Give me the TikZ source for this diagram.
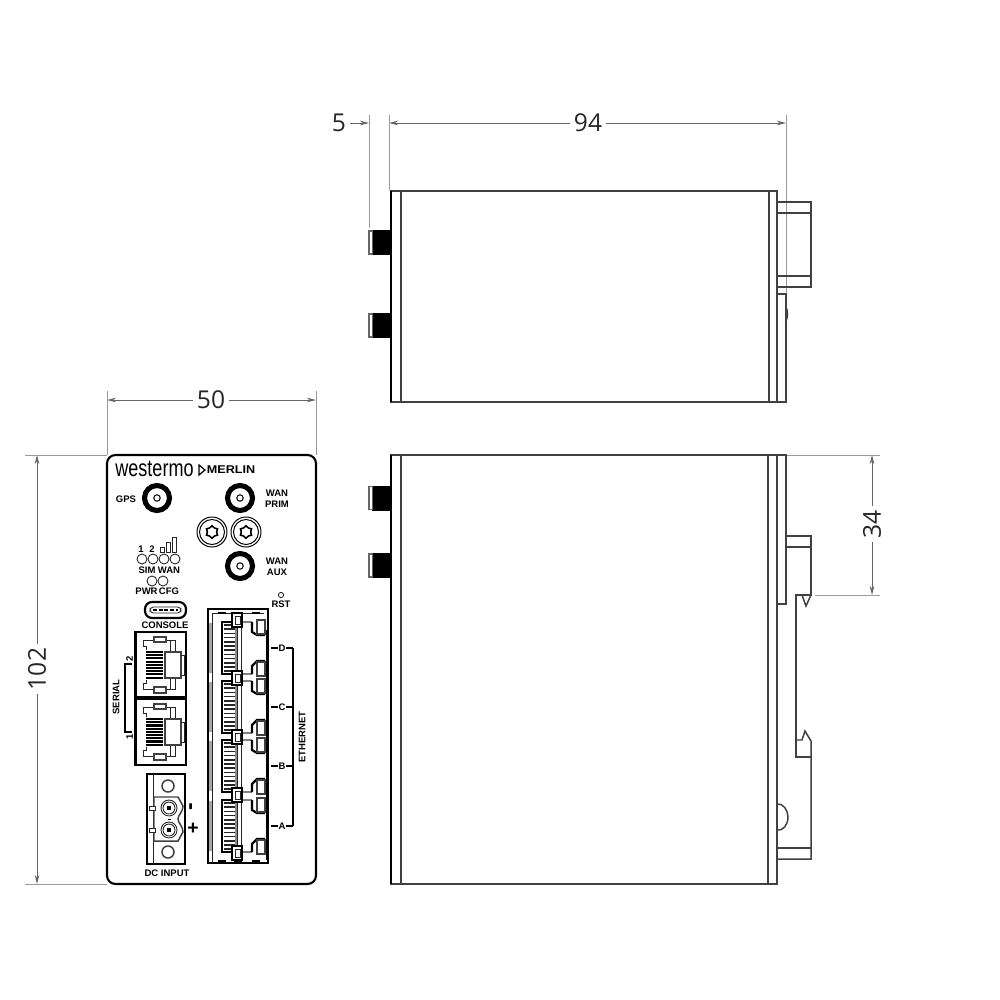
\documentclass[tikz,border=0pt]{standalone}
\usepackage{fontspec}
\setmainfont{Liberation Sans}
\newfontfamily\dimfamily{Open Sans}
\usetikzlibrary{arrows.meta,shapes.geometric}
\newcommand{\dimfont}{\dimfamily\fontsize{7}{8}\selectfont}
\newcommand{\tagfont}{\bfseries\fontsize{2.7}{3.1}\selectfont}
\tikzset{
  dimline/.style={draw=black!40,line width=.22pt},
  dimarrow/.style={draw=black!60,line width=.25pt,-{Stealth[length=2.6pt,width=1.3pt]}},
  dimlabel/.style={font=\dimfont,inner sep=.9pt,text=black!85},
  body/.style={draw=black!75,line width=.42pt},
  heavy/.style={draw=black,line width=.62pt},
  fine/.style={draw=black!85,line width=.25pt},
  tag/.style={font=\tagfont,inner sep=0pt,text=black,align=center},
  smaport/.pic={
    \draw[line width=1.45pt] (0,0) circle (12.5);
    \draw[line width=.3pt] (0,0) circle (3.2);
  },
  screwhole/.pic={
    \draw[line width=.28pt] (0,0) circle (15) (0,0) circle (12.5);
    \node[draw,line width=.45pt,star,star points=6,star point ratio=1.35,
      minimum size=3.6pt,inner sep=0pt] (head) at (0,0) {};
  },
  lanport/.pic={
    % jack seen from the front, drawn round its own middle
    \foreach \t in {0,...,8}
      \draw[line width=.62pt] (146,-13+\t*3.2+665) -- (163,-13+\t*3.2+665);
    \draw[fine] (143,640) -- (143,646) -- (146,646) -- (146,650)
      (143,689) -- (143,683) -- (146,683) -- (146,680)
      (143,640) -- (154,640) (166,640) -- (175,640) -- (175,652)
      (170,640) -- (170,652) (143,689) -- (154,689) (166,689) -- (175,689) -- (175,678)
      (170,689) -- (170,678);
    \draw[body] (165,652) rectangle (181,678);
    \draw[fine] (181,655) -- (184,655) -- (184,675) -- (181,675);
    \draw[body] (154,637) rectangle (166,642);
    \draw[body] (154,687) rectangle (166,693);
  },
  ethport/.pic={
    % one of the four jacks, round the height of its letter
    \foreach \t in {0,...,11}
      \draw[line width=.5pt,draw=black!85] (224,-23+\t*4.2) -- (235,-23+\t*4.2);
    \draw[heavy] (237,-26) -- (222,-26) -- (222,26) -- (237,26);
    \fill[black!45] (235,-25) rectangle (237,25);
    \draw[fine] (237,-26) -- (237,26) (241.5,-26) -- (241.5,26);
    \draw[draw=black!50,line width=.5pt] (241.5,-26) -- (252,-26) (241.5,26) -- (252,26);
    \draw[heavy] (252,-26) -- (252,-16) -- (257,-13) -- (265,-13);
    \draw[heavy] (252,26) -- (252,18) -- (257,13) -- (265,13);
    \draw[body,fill=white] (257,-28) rectangle (265,-14);
    \draw[body,fill=white] (257,14) rectangle (265,28);
    \fill[black!35] (208.5,-25) rectangle (211.5,25);
  }
}
\begin{document}
\begin{tikzpicture}[x=.01cm,y=-.01cm]
  \useasboundingbox (0,0) rectangle (1000,1000);

  % dimensions
  \node[dimlabel] (w50) at (211,400) {50};
  \coordinate (w50l) at (107,400);
  \coordinate (w50r) at (316,400);
  \draw[dimarrow] (w50) -- (w50l);
  \draw[dimarrow] (w50) -- (w50r);
  \draw[dimline] (107,391) -- (107,455) (316,391) -- (316,455);

  \node[dimlabel,rotate=90] (h102) at (37,669) {102};
  \coordinate (h102t) at (37,455);
  \coordinate (h102b) at (37,884);
  \draw[dimarrow] (h102) -- (h102t);
  \draw[dimarrow] (h102) -- (h102b);
  \draw[dimline] (25,455) -- (107,455) (25,884) -- (107,884);

  \node[dimlabel] (d5) at (339,123) {5};
  \coordinate (d5r) at (369,123);
  \draw[dimarrow] (d5) -- (d5r);
  \node[dimlabel] (d94) at (588,123) {94};
  \coordinate (d94l) at (389,123);
  \coordinate (d94r) at (786,123);
  \draw[dimarrow] (d94) -- (d94l);
  \draw[dimarrow] (d94) -- (d94r);
  \draw[dimline] (369,115) -- (369,228) (389,115) -- (389,190) (786,115) -- (786,293);

  \node[dimlabel,rotate=90] (d34) at (872,524) {34};
  \coordinate (d34t) at (872,455);
  \coordinate (d34b) at (872,595);
  \draw[dimarrow] (d34) -- (d34t);
  \draw[dimarrow] (d34) -- (d34b);
  \draw[dimline] (777,455) -- (880,455) (815,595) -- (880,595);

  % top view
  \draw[body] (391,191) rectangle (777,402);
  \draw[body] (401,191) -- (401,402) (769,191) -- (769,402);
  \draw[heavy] (391,191) -- (391,402);
  \draw[body] (777,202) rectangle (811,287);
  \draw[body] (777,213) -- (811,213) (777,276) -- (811,276);
  \draw[body] (777,294) rectangle (786,402);
  \draw[body] (786,307) .. controls (788,311) and (788,317) .. (786,321);

  % side view
  \draw[body] (391,455) rectangle (777,884);
  \draw[body] (401,455) -- (401,884) (768,455) -- (768,884);
  \draw[heavy] (391,455) -- (391,884);
  \draw[body] (777,455) -- (786,455) -- (786,604) -- (777,604);
  \draw[body] (786,536) -- (811,536) -- (811,595) -- (796,595) -- (796,757) -- (811,757);
  \draw[body] (786,547) -- (811,547);
  \draw[body] (802,595) -- (806,606) -- (811,595);
  \draw[body] (796,740) -- (802,740) -- (805,731) -- (811,741) -- (811,859) -- (777,859);
  \draw[body] (777,848) -- (811,848);
  \draw[body] (777,804) .. controls (783,803) and (788,810) .. (788,817)
    .. controls (788,825) and (783,831) .. (777,830);

  % antenna connectors on both views
  \foreach \cy in {242.5,325.5,498,565.5} {
    \fill[black] (372,\cy-12.5) rectangle (391,\cy+12.5);
    \draw[draw=black!60,line width=.35pt,fill=white] (369,\cy-11.5) rectangle (372.5,\cy+11.5);
  }

  % front panel
  \draw[draw=black,line width=.6pt,rounded corners=2.4pt] (107,455) rectangle (316,884);
  \node[font=\fontsize{5.4}{6}\selectfont,inner sep=0pt] (logo) at (154.5,469)
    {\scalebox{.95}[1.25]{westermo}};
  \draw[line width=.35pt] (199,465) -- (205,470) -- (199,475) -- cycle;
  \node[font=\bfseries\fontsize{3.2}{4}\selectfont,inner sep=0pt] (merlin) at (231,470)
    {\scalebox{1.12}[1]{MERLIN}};

  \foreach \sx/\sy in {157/498,240/498,240/566}
    \pic at (\sx,\sy) {smaport};
  \foreach \sx in {212,246}
    \pic at (\sx,532) {screwhole};
  \node[tag] (gps) at (126,499) {GPS};
  \node[tag] (wanprim) at (277,498.5) {WAN\\PRIM};
  \node[tag] (wanaux) at (277,566.5) {WAN\\AUX};

  % status leds
  \foreach \lx in {142,153,164,175}
    \draw[fine] (\lx,559) circle (5);
  \foreach \lx in {152,163}
    \draw[fine] (\lx,581) circle (5);
  \node[tag] (sim1) at (141,549) {1};
  \node[tag] (sim2) at (152,549) {2};
  \foreach \bx/\bt in {160.5/547,166.5/542,172.5/537}
    \draw[fine] (\bx,\bt) rectangle (\bx+4,552);
  \node[tag] (sim) at (147,570) {SIM};
  \node[tag] (wan) at (169,570) {WAN};
  \node[tag] (pwr) at (146.5,591) {PWR};
  \node[tag] (cfg) at (169,591) {CFG};

  % usb console
  \draw[heavy,rounded corners=2pt] (145,602) rectangle (186,618);
  \draw[fine,rounded corners=1pt] (150,607) rectangle (181,613);
  \draw[line width=.5pt,dash pattern=on 1.2pt off .4pt] (153,610) -- (178,610);
  \node[tag] (console) at (165,625) {CONSOLE};

  \draw[fine] (281,595) circle (2.6);
  \node[tag] (rst) at (281,604) {RST};

  % serial jacks
  \draw[heavy] (135.5,632) rectangle (186,697);
  \draw[heavy] (135.5,699) rectangle (186,765);
  \pic at (0,0) {lanport};
  \pic at (0,67) {lanport};
  \coordinate (ser2) at (132,664);
  \coordinate (ser1) at (132,732);
  \draw[body,draw=black] (ser2) -- (125,664) -- (125,732) -- (ser1);
  \node[tag,rotate=90] (num2) at (129.5,659) {2};
  \node[tag,rotate=90] (num1) at (129.5,737) {1};
  \node[tag,rotate=90] (serial) at (116,697) {SERIAL};

  % dc plug
  \draw[heavy] (147,774) rectangle (185,864);
  \draw[fine] (153,774) -- (153,864);
  \foreach \py in {786,852}
    \draw[body] (168,\py) circle (6);
  \draw[body,fill=white] (154,797) -- (178,797) -- (183,806)
    .. controls (183,812) and (178,815) .. (178,819)
    .. controls (178,823) and (183,826) .. (183,832)
    -- (178,841) -- (154,841) -- cycle;
  \foreach \py in {808,830} {
    \draw[fine] (169,\py) circle (8) (169,\py) circle (6);
    \fill[black] (167,\py-2) rectangle (171,\py+2);
    \draw[fine,fill=white] (149,\py-2) rectangle (155,\py+2);
  }
  \fill[black] (168,818.5) rectangle (171,820);
  \node[font=\bfseries\fontsize{6.5}{7}\selectfont,inner sep=0pt,rotate=90] (minus) at (193,807) {-};
  \node[font=\bfseries\fontsize{5.5}{7}\selectfont,inner sep=0pt] (plus) at (193,829) {+};
  \node[tag] (dcinput) at (167,873) {DC INPUT};

  % ethernet block
  \draw[heavy] (268,630) -- (268,609) -- (208,609) -- (208,863) -- (268,863) -- (268,630);
  \draw[fine] (212,863) -- (212,613) -- (264,613);
  \foreach \tx in {222,238,256}
    \draw[heavy] (\tx-4,613) -- (\tx+4,613);
  \foreach \cy in {648,707,766,826}
    \pic at (0,\cy) {ethport};
  \foreach \ly in {620,678,737,795,853} {
    \draw[heavy,fill=white] (232,\ly-7) rectangle (242,\ly+7);
    \draw[fine] (235,\ly-4) rectangle (240,\ly+4);
  }
  \foreach \tx in {222,238,256}
    \draw[heavy] (\tx-4,861) -- (\tx+4,861);
  \draw[line width=.7pt,draw=black] (267,630) -- (267,860);

  \node[tag] (portd) at (282,648) {D};
  \node[tag] (portc) at (282,707) {C};
  \node[tag] (portb) at (282,766) {B};
  \node[tag] (porta) at (282,826) {A};
  \foreach \pn/\py in {portd/648,portc/707,portb/766,porta/826}
    \draw[body,draw=black] (271,\py) -- (\pn) -- (293,\py);
  \draw[body,draw=black] (293,648) -- (293,826);
  \node[tag,rotate=90] (ethernet) at (302,737) {ETHERNET};
\end{tikzpicture}
\end{document}
